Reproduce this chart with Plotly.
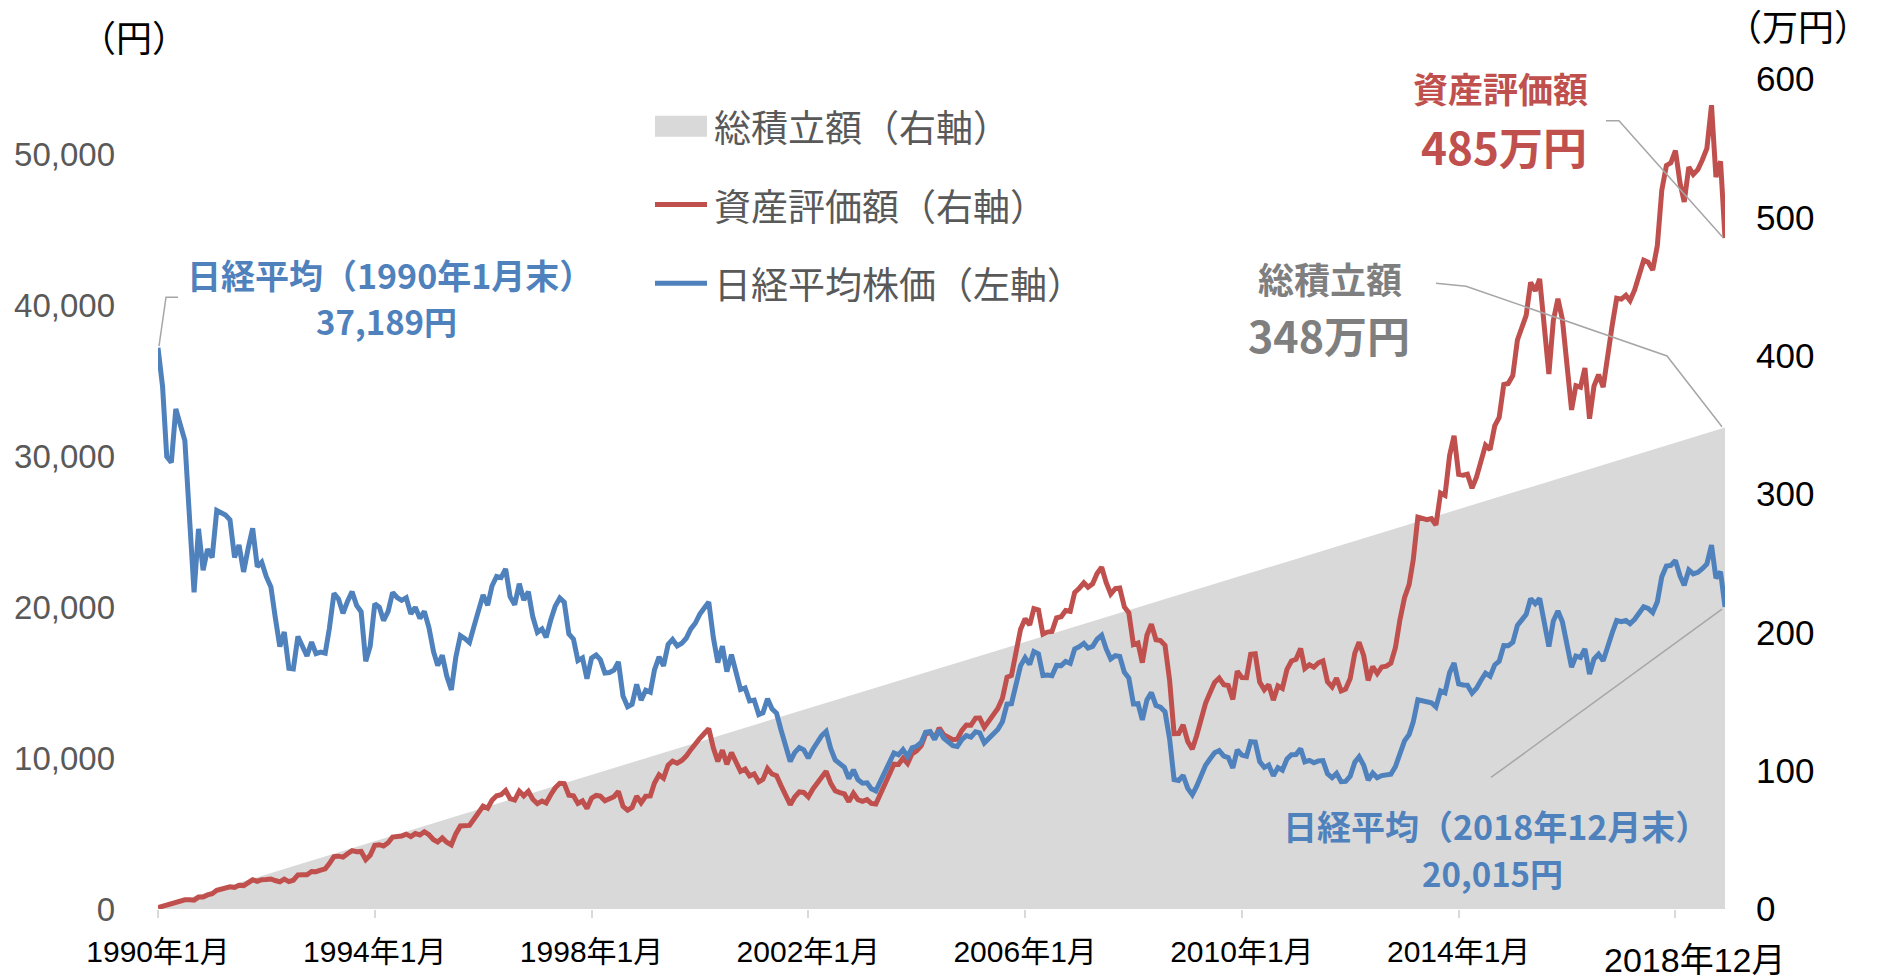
import pandas as pd
import plotly.graph_objects as go

# ---------------- data ----------------
START_MONTH = "1990-01-01"
N_MONTHS = 348

# Nikkei 225 month-end close (yen), 1990-01 .. 2018-12
NIKKEI = [
    37189, 34592, 29980, 29584, 33131, 31940, 31036, 25978, 20984, 25194, 22454, 23849,
    23293, 26409, 26292, 26111, 25790, 23291, 24121, 22336, 23916, 25222, 22687, 22984,
    22023, 21339, 19346, 17391, 18348, 15952, 15910, 18061, 17399, 16767, 17684, 16925,
    17024, 16953, 18591, 20919, 20552, 19590, 20380, 21027, 20106, 19703, 16408, 17417,
    20229, 19997, 19112, 19725, 20974, 20644, 20449, 20629, 19564, 19990, 19263, 19723,
    18650, 17053, 16140, 16807, 15437, 14517, 16678, 18117, 17913, 17655, 18744, 19868,
    20813, 20125, 21407, 22041, 21956, 22531, 20693, 20167, 21556, 20467, 21020, 19361,
    18330, 18557, 18003, 19151, 20069, 20605, 20331, 18229, 17888, 16459, 16636, 15259,
    16628, 16832, 16527, 15641, 15671, 15830, 16379, 14108, 13406, 13565, 14884, 13842,
    14499, 14368, 15837, 16702, 16112, 17530, 17862, 17437, 17606, 17942, 18558, 18934,
    19540, 19960, 20337, 17974, 16332, 17411, 15727, 16861, 15747, 14540, 14649, 13786,
    13843, 12884, 12999, 13934, 13262, 12969, 11861, 10714, 9775, 10366, 10697, 10543,
    9998, 10588, 11025, 11493, 11764, 10622, 9877, 9619, 9383, 8640, 9216, 8579,
    8340, 8363, 7973, 7831, 8425, 9083, 9563, 10344, 10219, 10560, 10101, 10677,
    10784, 11042, 11715, 11762, 11236, 11859, 11326, 11082, 10824, 10771, 11231, 11489,
    11388, 11741, 11669, 11009, 11277, 11584, 11900, 12414, 13574, 13607, 14872, 16111,
    16650, 16206, 17060, 16907, 15467, 15505, 15457, 16141, 16128, 16399, 16274, 17226,
    17383, 17604, 17288, 17400, 17876, 18138, 17249, 16569, 16786, 16738, 15681, 15308,
    13592, 13604, 12526, 13850, 14339, 13482, 13377, 13073, 11260, 8577, 8512, 8860,
    7994, 7568, 8110, 8828, 9523, 9958, 10357, 10493, 10133, 10035, 9346, 10546,
    10198, 10126, 11090, 11057, 9769, 9383, 9537, 8824, 9369, 9202, 9937, 10229,
    10238, 10624, 9755, 9850, 9694, 9816, 9833, 8955, 8700, 8988, 8435, 8455,
    8803, 9723, 10084, 9521, 8543, 9007, 8695, 8840, 8870, 8928, 9446, 10395,
    11139, 11559, 12398, 13861, 13775, 13677, 13668, 13389, 14456, 14328, 15662, 16291,
    14915, 14841, 14828, 14304, 14632, 15162, 15621, 15425, 16174, 16414, 17460, 17451,
    17674, 18798, 19207, 19520, 20563, 20236, 20585, 18890, 17388, 19083, 19747, 19034,
    17518, 16027, 16759, 16666, 17235, 15576, 16569, 16887, 16450, 17425, 18308, 19114,
    19041, 19119, 18909, 19197, 19651, 20033, 19925, 19646, 20356, 22012, 22725, 22765,
    23098, 22068, 21454, 22468, 22202, 22305, 22554, 22865, 24120, 21920, 22351, 20015,
]

# Asset value (万円), 1990-01 .. 2018-12
ASSET = [
    1.0, 1.9, 2.7, 3.6, 5.1, 5.9, 6.7, 6.6, 6.4, 8.6, 8.7, 10.2,
    11.0, 13.5, 14.4, 15.3, 16.1, 15.6, 17.1, 16.9, 19.0, 21.1, 20.0, 21.2,
    21.3, 21.7, 20.6, 19.6, 21.6, 19.8, 20.8, 24.6, 24.7, 24.8, 27.1, 27.0,
    28.1, 29.0, 32.8, 37.9, 38.2, 37.5, 40.0, 42.2, 41.4, 41.6, 35.6, 38.8,
    46.1, 46.5, 45.5, 47.9, 52.0, 52.1, 52.7, 54.1, 52.3, 54.5, 53.5, 55.8,
    53.7, 50.1, 48.4, 51.4, 48.3, 46.4, 54.3, 60.0, 60.3, 60.4, 65.1, 70.1,
    74.4, 72.9, 78.6, 81.9, 82.6, 85.7, 79.7, 78.7, 85.1, 81.8, 85.1, 79.3,
    76.1, 78.1, 76.7, 82.6, 87.6, 90.9, 90.7, 82.3, 81.8, 76.3, 78.1, 72.6,
    80.1, 82.1, 81.6, 78.3, 79.4, 81.2, 85.0, 74.2, 71.5, 73.4, 81.5, 76.8,
    81.5, 81.7, 91.1, 97.1, 94.6, 104.0, 106.9, 105.4, 107.4, 110.5, 115.2, 118.6,
    123.4, 127.0, 130.4, 116.3, 106.7, 114.7, 104.6, 113.1, 106.7, 99.5, 101.2, 96.3,
    97.7, 91.9, 93.7, 101.5, 97.6, 96.4, 89.2, 81.6, 75.4, 81.0, 84.6, 84.3,
    81.0, 86.8, 91.3, 96.2, 99.5, 90.8, 85.5, 84.2, 83.2, 77.6, 83.7, 79.0,
    77.8, 79.0, 76.3, 75.9, 82.7, 90.1, 95.9, 104.7, 104.5, 109.0, 105.2, 112.2,
    114.4, 118.1, 126.3, 127.8, 123.1, 130.9, 126.0, 124.3, 122.4, 122.8, 129.1, 133.0,
    132.8, 138.0, 138.1, 131.3, 135.5, 140.2, 145.0, 152.3, 167.5, 168.9, 185.6, 202.1,
    209.8, 205.3, 217.1, 216.1, 198.7, 200.2, 200.6, 210.5, 211.3, 215.8, 215.2, 228.8,
    231.9, 235.8, 232.6, 235.1, 242.5, 247.1, 236.0, 227.7, 231.6, 232.0, 218.3, 214.1,
    191.1, 192.3, 178.1, 197.9, 205.9, 194.6, 194.1, 190.6, 165.2, 126.8, 126.9, 133.1,
    121.1, 115.6, 124.9, 136.9, 148.7, 156.5, 163.8, 166.9, 162.2, 161.6, 151.5, 172.0,
    167.3, 167.2, 184.1, 184.5, 164.0, 158.5, 162.1, 151.0, 161.3, 159.5, 173.2, 179.3,
    180.5, 188.3, 173.9, 176.6, 174.8, 178.0, 179.3, 164.3, 160.6, 166.9, 157.6, 159.0,
    166.6, 185.0, 192.8, 183.1, 165.3, 175.2, 170.2, 175.0, 175.6, 177.7, 189.0, 209.0,
    225.0, 234.5, 252.5, 283.3, 282.5, 281.5, 282.3, 277.6, 300.7, 299.0, 327.9, 342.1,
    314.2, 313.6, 314.3, 304.2, 312.2, 324.5, 335.3, 332.1, 349.2, 355.4, 379.1, 379.9,
    385.7, 411.3, 421.2, 429.1, 453.0, 446.8, 455.5, 419.0, 386.7, 425.4, 441.2, 426.2,
    393.3, 360.8, 378.3, 377.2, 391.1, 354.4, 378.0, 386.3, 377.3, 400.7, 422.0, 441.5,
    440.9, 443.7, 439.8, 447.5, 459.1, 469.0, 467.5, 461.9, 479.6, 519.6, 537.5, 539.4,
    548.3, 524.8, 511.2, 536.4, 531.0, 534.5, 541.5, 549.9, 581.1, 529.1, 540.5, 485.0,
]

# Total contributions (万円): straight line from first to last month
TOTAL_DATES = ["1990-01-01", "2018-12-01"]
TOTAL_VALUES = [1, 348]

X_TICK_VALS = ["1990-01-01", "1994-01-01", "1998-01-01", "2002-01-01",
               "2006-01-01", "2010-01-01", "2014-01-01", "2018-01-01"]
X_TICK_TEXT = ["1990年1月", "1994年1月", "1998年1月", "2002年1月",
               "2006年1月", "2010年1月", "2014年1月", ""]
LEFT_TICKS = [0, 10000, 20000, 30000, 40000, 50000]
RIGHT_TICKS = [0, 100, 200, 300, 400, 500, 600]

months = pd.date_range(START_MONTH, periods=N_MONTHS, freq="MS")

# ---------------- styling ----------------
W, H = 1877, 980
L, R, T, B = 158, 1725, 79, 912   # plot area in page pixels
BLUE = "#4F81BD"
RED = "#C0504D"
AREA = "#D9D9D9"
GRAYTXT = "#7F7F7F"
LEAD = "#A6A6A6"
CJK = "Noto Sans CJK JP"
NUM = "Liberation Sans, Noto Sans CJK JP"
NARROW = "Liberation Sans Narrow, Liberation Sans, Noto Sans CJK JP"


def px(x):
    return (x - L) / (R - L)


def py(y):
    return (B - y) / (B - T)


def path(points):
    return "M " + " L ".join(f"{px(x):.5f},{py(y):.5f}" for x, y in points)


fig = go.Figure()
fig.add_trace(go.Scatter(x=TOTAL_DATES, y=TOTAL_VALUES, yaxis="y", mode="lines",
                         fill="tozeroy", fillcolor=AREA, line=dict(width=0, color=AREA),
                         hoverinfo="skip", showlegend=False))
fig.add_trace(go.Scatter(x=months, y=ASSET, yaxis="y", mode="lines",
                         line=dict(color=RED, width=5), showlegend=False))
fig.add_trace(go.Scatter(x=months, y=NIKKEI, yaxis="y2", mode="lines",
                         line=dict(color=BLUE, width=5), showlegend=False))

annotations = []


def ann(text, x, y, size, color, family=CJK, xanchor="center", bold=False):
    annotations.append(dict(
        text=f"<b>{text}</b>" if bold else text, x=px(x), y=py(y), xref="paper", yref="paper",
        xanchor=xanchor, yanchor="middle", showarrow=False,
        font=dict(size=size, color=color, family=family)))


ann("（円）", 134, 36, 36, "#000000")
ann("（万円）", 1798, 25, 36, "#000000")

# legend
LEG_TXT = "#595959"
ann("総積立額（右軸）", 712, 126, 37, LEG_TXT, xanchor="left")
ann("資産評価額（右軸）", 712, 205, 37, LEG_TXT, xanchor="left")
ann("日経平均株価（左軸）", 712, 284, 37, LEG_TXT, xanchor="left")

# callouts
ann("日経平均（1990年1月末）", 390, 275, 34, BLUE, bold=True)
ann("37,189円", 386, 322, 33, BLUE, bold=True)
ann("資産評価額", 1500, 88, 35, RED, bold=True)
ann("485万円", 1504, 146, 44, RED, bold=True)
ann("総積立額", 1330, 279, 36, GRAYTXT, bold=True)
ann("348万円", 1329, 335, 43, GRAYTXT, bold=True)
ann("日経平均（2018年12月末）", 1496, 828, 34, BLUE, bold=True)
ann("20,015円", 1492, 876, 33, BLUE, bold=True)

# last x label (lower, right of the last tick)
ann("2018年12月", 1694, 963, 34, "#000000", family=NARROW)

shapes = [
    dict(type="rect", xref="paper", yref="paper", x0=px(655), x1=px(707), y0=py(137), y1=py(116),
         fillcolor=AREA, line=dict(width=0)),
    dict(type="line", xref="paper", yref="paper", x0=px(655), x1=px(707), y0=py(205), y1=py(205),
         line=dict(color=RED, width=5)),
    dict(type="line", xref="paper", yref="paper", x0=px(655), x1=px(707), y0=py(284), y1=py(284),
         line=dict(color=BLUE, width=5)),
    dict(type="path", xref="paper", yref="paper",
         path=path([(178, 298), (166, 298), (159, 347)]), line=dict(color=LEAD, width=1.5)),
    dict(type="path", xref="paper", yref="paper",
         path=path([(1606, 121), (1619, 121), (1723, 238)]), line=dict(color=LEAD, width=1.5)),
    dict(type="path", xref="paper", yref="paper",
         path=path([(1436, 284), (1466, 287), (1667, 357), (1722, 428)]), line=dict(color=LEAD, width=1.5)),
    dict(type="path", xref="paper", yref="paper",
         path=path([(1491, 780), (1722, 611)]), line=dict(color=LEAD, width=1.5)),
]

fig.update_layout(
    width=W, height=H,
    margin=dict(l=L, r=W - R, t=T, b=H - B, pad=0),
    paper_bgcolor="white", plot_bgcolor="white",
    showlegend=False,
    xaxis=dict(type="date", range=[months[0], months[-1]],
               tickvals=X_TICK_VALS, ticktext=X_TICK_TEXT,
               ticks="outside", ticklen=8, tickwidth=1.5, tickcolor="#D9D9D9",
               showgrid=False, zeroline=False, showline=False,
               ticklabelstandoff=8,
               tickfont=dict(size=30, color="#000000", family=NARROW)),
    yaxis=dict(side="right", range=[0, 600], tickvals=RIGHT_TICKS,
               showgrid=False, zeroline=False, showline=False, ticks="",
               ticklabelstandoff=30,
               tickfont=dict(size=35, color="#000000", family=NUM)),
    yaxis2=dict(side="left", overlaying="y", range=[0, 55000], tickvals=LEFT_TICKS,
                tickformat=",", showgrid=False, zeroline=False, showline=False, ticks="",
                ticklabelstandoff=42,
                tickfont=dict(size=33, color="#595959", family=NUM)),
    annotations=annotations,
    shapes=shapes,
)

fig.write_html("out.html", config={"displayModeBar": False},
               post_script="document.body.style.margin='0';document.body.style.overflow='hidden';")
